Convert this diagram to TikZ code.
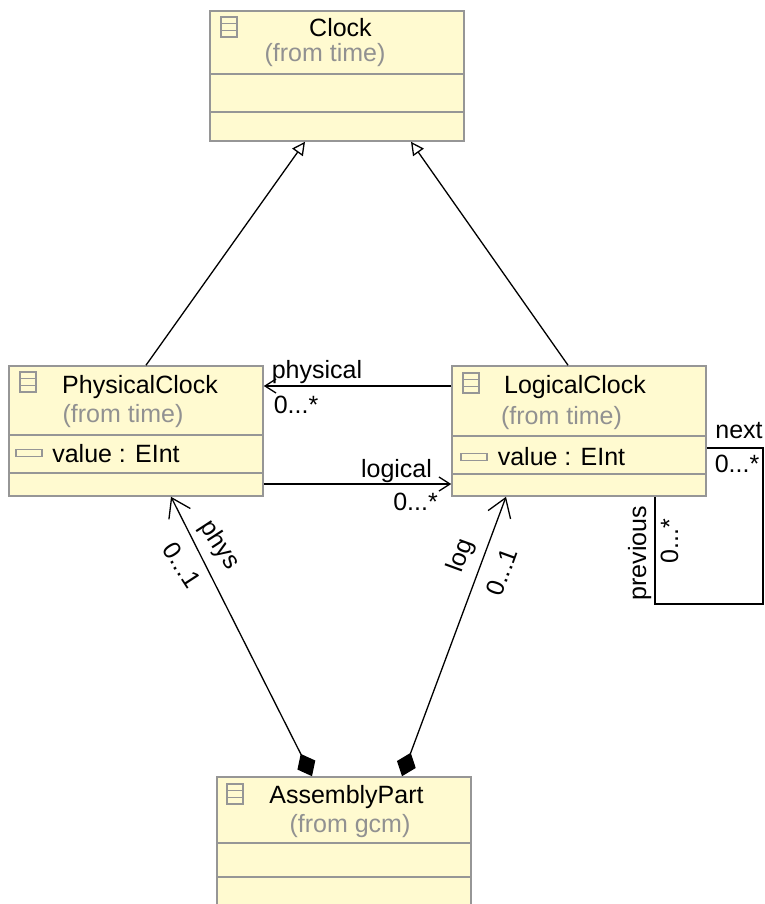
\documentclass[tikz,border=0pt]{standalone}
\usepackage{fontspec}
\setmainfont{Liberation Sans}
\usetikzlibrary{arrows.meta}
\definecolor{classfill}{RGB}{255,250,208}
\definecolor{classline}{RGB}{150,150,150}
\definecolor{fromtext}{RGB}{145,145,145}
\begin{document}
\begin{tikzpicture}[x=1pt,y=-1pt,
every node/.style={font=\fontsize{25}{30}\selectfont},
class/.style={
% The shape:
rectangle,
draw=classline,
line width=1.6pt,
fill=classfill,
minimum width=254pt,
inner sep=0pt
},
sep/.style={draw=classline,line width=1.6pt},
title/.style={anchor=base},
from/.style={anchor=base,text=fromtext},
iconbox/.style={
rectangle,draw=classline,line width=1.5pt,inner sep=0pt,
minimum width=16pt,minimum height=20pt,
path picture={
\draw[classline,line width=1.5pt] ([yshift=3.3pt]path picture bounding box.west) -- ([yshift=3.3pt]path picture bounding box.east);
\draw[classline,line width=1.5pt] ([yshift=-3.3pt]path picture bounding box.west) -- ([yshift=-3.3pt]path picture bounding box.east);
}
},
attricon/.style={rectangle,draw=classline,line width=1.5pt,inner sep=0pt,minimum width=26pt,minimum height=7pt},
conn/.style={black,line width=1.3pt},
extends/.style={conn,-{Triangle[open,length=13pt,width=13pt,line width=1.3pt]}},
refsmall/.style={conn,-{Straight Barb[length=11pt,width=14pt,line width=1.3pt]}},
reflarge/.style={conn,{Diamond[length=25pt,width=20pt]}-{Straight Barb[length=18pt,width=24pt,line width=1.3pt]}}
]
\path[use as bounding box,clip] (0,0) rectangle (764,904);
% Classes:
\node (clock) [class,minimum height=130pt] at (337.25,76) {};
\node (physicalclock) [class,minimum height=130pt] at (136,431) {};
\node (logicalclock) [class,minimum height=130pt] at (579,431) {};
\node (assemblypart) [class,minimum height=160pt] at (344,857) {};
% Compartments:
\draw[sep] (clock.west |- 0,74) -- (clock.east |- 0,74);
\draw[sep] (clock.west |- 0,112) -- (clock.east |- 0,112);
\draw[sep] (physicalclock.west |- 0,435) -- (physicalclock.east |- 0,435);
\draw[sep] (physicalclock.west |- 0,473) -- (physicalclock.east |- 0,473);
\draw[sep] (logicalclock.west |- 0,436) -- (logicalclock.east |- 0,436);
\draw[sep] (logicalclock.west |- 0,474) -- (logicalclock.east |- 0,474);
\draw[sep] (assemblypart.west |- 0,843) -- (assemblypart.east |- 0,843);
\draw[sep] (assemblypart.west |- 0,877) -- (assemblypart.east |- 0,877);
% Titles:
\node (clockicon) [iconbox] at (229,27) {};
\node (clockname) [title] at (340.5,37) {Clock};
\node (clockfrom) [from] at (325,62) {(from time)};
\node (physicalicon) [iconbox] at (28,382) {};
\node (physicalname) [title] at (140,393) {PhysicalClock};
\node (physicalfrom) [from] at (123,422) {(from time)};
\node (logicalicon) [iconbox] at (471,383) {};
\node (logicalname) [title] at (575,393) {LogicalClock};
\node (logicalfrom) [from] at (561.5,424) {(from time)};
\node (assemblyicon) [iconbox] at (235,794) {};
\node (assemblyname) [title] at (346.5,803) {AssemblyPart};
\node (assemblyfrom) [from] at (350,832) {(from gcm)};
% Attributes:
\node (physicalattr) [attricon] at (29,453) {};
\node (physicalvalue) [title] at (116,462) {value : EInt};
\node (logicalattr) [attricon] at (474,457) {};
\node (logicalvalue) [title] at (561.5,465) {value : EInt};
% Connectors:
\path (physicalclock.north -| 146,0) edge[extends] (clock.south -| 305,0);
\path (logicalclock.north -| 568,0) edge[extends] (clock.south -| 411,0);
\path (logicalclock.west |- 0,386) edge[refsmall] (physicalclock.east |- 0,386);
\path (physicalclock.east |- 0,484) edge[refsmall] (logicalclock.west |- 0,484);
\path (assemblypart.north -| 312,0) edge[reflarge] (physicalclock.south -| 171,0);
\path (assemblypart.north -| 402,0) edge[reflarge] (logicalclock.south -| 506,0);
\draw[conn] (logicalclock.east |- 0,448) -| (763,604) -| (logicalclock.south -| 655,0);
% Labels:
\node (physicallabel) [title] at (317,378) {physical};
\node (physicalmult) [title] at (296,413) {0...*};
\node (logicallabel) [title] at (396.5,477) {logical};
\node (logicalmult) [title] at (415.5,510) {0...*};
\node (nextlabel) [title] at (739,438) {next};
\node (nextmult) [title] at (737,472) {0...*};
\node (previouslabel) [title,rotate=90] at (646,553) {previous};
\node (previousmult) [title,rotate=90] at (678,541) {0...*};
\node (physlabel) [rotate=-57] at (219,545) {phys};
\node (physmult) [rotate=-57] at (182,565) {0...1};
\node (loglabel) [rotate=70] at (461,556) {log};
\node (logmult) [rotate=70] at (502,572) {0...1};
\end{tikzpicture}
\end{document}
